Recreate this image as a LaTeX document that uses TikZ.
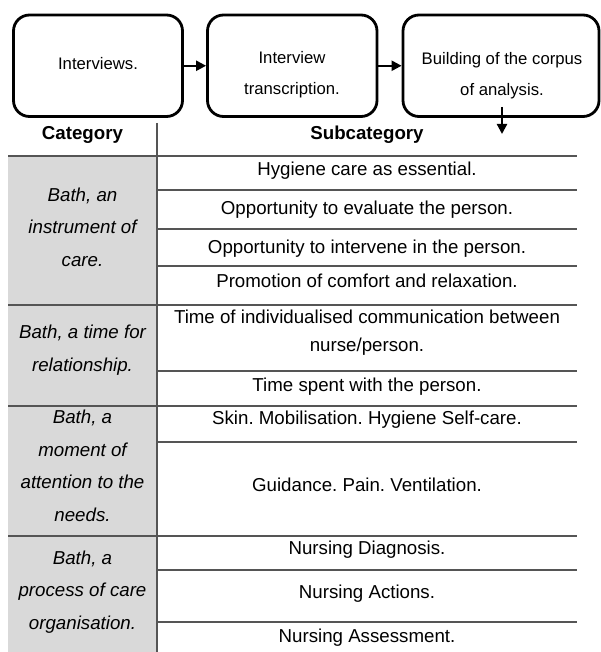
\documentclass[tikz,border=0pt]{standalone}
\usepackage{fontspec}
\setmainfont{Liberation Sans}
\usetikzlibrary{arrows.meta}
\definecolor{catgray}{HTML}{D9D9D9}
\definecolor{rulegray}{HTML}{555555}
\frenchspacing
\begin{document}
\begin{tikzpicture}[x=1pt,y=-1pt,
  flowbox/.style={draw=black, line width=2.8pt, rounded corners=16pt,
    minimum width=#1, minimum height=101.5pt, inner sep=0pt},
  boxtext/.style={align=center, inner sep=0pt,
    font=\fontsize{16.7}{31}\selectfont},
  flowarrow/.style={draw=black, line width=2.2pt,
    -{Triangle[length=10pt,width=10pt]}},
  tabrule/.style={draw=rulegray, line width=1.5pt},
  vrule/.style={draw=rulegray, line width=1.2pt},
  head/.style={inner sep=0pt, font=\fontsize{18.7}{22}\selectfont\bfseries},
  subtext/.style={align=center, inner sep=0pt,
    font=\fontsize{18.7}{28}\selectfont},
  cattext/.style={align=center, inner sep=0pt,
    font=\fontsize{18.7}{32.5}\selectfont\itshape}
]
\useasboundingbox (0,0) rectangle (601,652);

% grey category column
\fill[catgray] (8,157) rectangle (157,652);

% flow boxes
\node[flowbox=169pt] (b1) at (98,65.75) {};
\node[flowbox=169.5pt] (b2) at (292.25,65.75) {};
\node[flowbox=196pt] (b3) at (501,65.75) {};
\node[boxtext] (t1) at (98,64) {Interviews.};
\node[boxtext] (t2) at (292,74.5) {Interview\\transcription.};
\node[boxtext] (t3) at (502,75.5) {Building of the corpus\\of analysis.};

\draw[flowarrow] (b1) -- (b2);
\draw[flowarrow] (b2) -- (b3);
\coordinate (d1) at (502,107);
\coordinate (d2) at (502,134);
\draw[flowarrow] (d1) -- (d2);

% headers
\node[head] (hcat) at (82.5,135) {Category};
\node[head] (hsub) at (367,135) {Subcategory};

% table rules
\draw[vrule] (157,123) -- (157,652);
\foreach \yy in {156,305,406,536} \draw[tabrule] (8,\yy) -- (577,\yy);
\foreach \yy in {190,229,266,371,442,570,622} \draw[tabrule] (157,\yy) -- (577,\yy);

% categories
\node[cattext] (c1) at (82.5,227) {Bath, an\\instrument of\\care.};
\node[cattext] (c2) at (82.5,350) {Bath, a time for\\relationship.};
\node[cattext] (c3) at (82.5,466) {Bath, a\\moment of\\attention to the\\needs.};
\node[cattext] (c4) at (82.5,592) {Bath, a\\process of care\\organisation.};

% subcategories
\node[subtext] (s1) at (367,171) {Hygiene care as essential.};
\node[subtext] (s2) at (367,210) {Opportunity to evaluate the person.};
\node[subtext] (s3) at (367,249) {Opportunity to intervene in the person.};
\node[subtext] (s4) at (367,281) {Promotion of comfort and relaxation.};
\node[subtext] (s5) at (367,333) {Time of individualised communication between\\nurse/person.};
\node[subtext] (s6) at (367,387) {Time spent with the person.};
\node[subtext] (s7) at (367,420) {Skin. Mobilisation. Hygiene Self-care.};
\node[subtext] (s8) at (367,485) {Guidance. Pain. Ventilation.};
\node[subtext] (s9) at (367,550) {Nursing Diagnosis.};
\node[subtext] (s10) at (367,594) {Nursing Actions.};
\node[subtext] (s11) at (367,638) {Nursing Assessment.};
\end{tikzpicture}
\end{document}
